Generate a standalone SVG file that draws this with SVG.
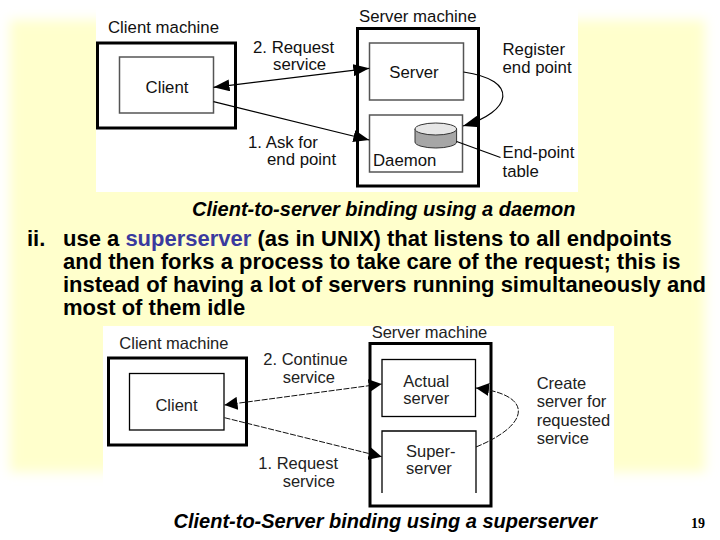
<svg xmlns="http://www.w3.org/2000/svg" width="720" height="540" viewBox="0 0 720 540">
<defs>
  <filter id="soft" x="-5%" y="-5%" width="110%" height="110%"><feGaussianBlur stdDeviation="6"/></filter>
  <marker id="ah1" markerUnits="userSpaceOnUse" viewBox="0 0 16 12" markerWidth="16" markerHeight="12" refX="16" refY="6" orient="auto-start-reverse">
    <path d="M0,0 L16,6 L0,12 z" fill="#000"/>
  </marker>
  <marker id="ah2" markerUnits="userSpaceOnUse" viewBox="0 0 13 13" markerWidth="13" markerHeight="13" refX="13" refY="6.5" orient="auto-start-reverse">
    <path d="M0,0 L13,6.5 L0,13 z" fill="#000"/>
  </marker>
  <style>
    .d1 { font-family: "Liberation Sans", Arial, sans-serif; font-size: 16.8px; fill: #111; }
    .d2 { font-family: "Liberation Sans", Arial, sans-serif; font-size: 16.5px; fill: #222; }
    .outer { fill: none; stroke: #000; stroke-width: 3; }
    .in1 { fill: none; stroke: #555; stroke-width: 1.5; }
    .in2 { fill: none; stroke: #000; stroke-width: 1.3; }
    .c1 { fill: none; stroke: #000; stroke-width: 1.2; }
    .c2 { fill: none; stroke: #111; stroke-width: 1; stroke-dasharray: 6 1.5; }
    .body { font-family: "Liberation Sans", Arial, sans-serif; font-size: 22px; font-weight: bold; fill: #000; }
    .cap { font-family: "Liberation Sans", Arial, sans-serif; font-size: 20px; font-weight: bold; font-style: italic; fill: #000; }
  </style>
</defs>

<!-- background -->
<rect width="720" height="540" fill="#fff"/>
<rect x="10" y="20" width="695" height="452" fill="#FFFFCC" filter="url(#soft)"/>
<rect x="96" y="8" width="482" height="184" fill="#fff"/>
<rect x="103" y="326" width="511" height="166" fill="#fff"/>

<!-- ===== Diagram 1 ===== -->
<g id="d1-client-machine">
  <rect class="outer" x="97.5" y="43" width="138" height="85"/>
  <text class="d1" x="108" y="33">Client machine</text>
</g>
<g id="d1-client">
  <rect class="in1" x="119.5" y="57" width="94" height="56"/>
  <text class="d1" x="167" y="93" text-anchor="middle">Client</text>
</g>
<g id="d1-server-machine">
  <rect class="outer" x="357.5" y="28.5" width="121" height="157.5"/>
  <text class="d1" x="359" y="21.5">Server machine</text>
</g>
<g id="d1-server">
  <rect class="in1" x="369.5" y="43" width="94" height="57"/>
  <text class="d1" x="414" y="78" text-anchor="middle">Server</text>
</g>
<g id="d1-daemon">
  <rect class="in1" x="369.5" y="115" width="93" height="57"/>
  <text class="d1" x="373" y="166">Daemon</text>
</g>
<g id="d1-endpoint-table">
  <path d="M415,129 V142 A20.8,6 0 0 0 456.6,142 V129" fill="#a6a6a6" stroke="#333" stroke-width="1"/>
  <ellipse cx="435.8" cy="129" rx="20.8" ry="6" fill="#e6e6e6" stroke="#333" stroke-width="1"/>
</g>

<g id="d1-connectors">
  <line class="c1" x1="213.5" y1="87.3" x2="369.3" y2="68.3" marker-start="url(#ah1)" marker-end="url(#ah1)"/>
  <line class="c1" x1="213.5" y1="101.7" x2="369.3" y2="140" marker-end="url(#ah1)"/>
  <path class="c1" d="M463.5,72 C520,80 512,112 463,126" marker-end="url(#ah1)"/>
  <line class="c1" x1="456.6" y1="141.5" x2="500.5" y2="157.5"/>
  <text class="d1" x="253" y="52.5">2. Request</text>
  <text class="d1" x="273" y="70">service</text>
  <text class="d1" x="248" y="147.5">1. Ask for</text>
  <text class="d1" x="267" y="165">end point</text>
  <text class="d1" x="502.5" y="54.5">Register</text>
  <text class="d1" x="502.5" y="73">end point</text>
  <text class="d1" x="502.5" y="158">End-point</text>
  <text class="d1" x="502.5" y="177">table</text>
</g>

<!-- captions and body text -->
<text class="cap" x="192" y="215.5">Client-to-server binding using a daemon</text>
<text class="body" x="27" y="245.5">ii.</text>
<text class="body" x="63" y="245.5">use a <tspan fill="#3A3A9E">superserver</tspan> (as in UNIX) that listens to all endpoints</text>
<text class="body" x="63" y="268.7">and then forks a process to take care of the request; this is</text>
<text class="body" x="63" y="291.9">instead of having a lot of servers running simultaneously and</text>
<text class="body" x="63" y="315">most of them idle</text>

<!-- ===== Diagram 2 ===== -->
<g id="d2-client-machine">
  <rect class="outer" x="108.5" y="358" width="138" height="87"/>
  <text class="d2" x="119.3" y="349">Client machine</text>
</g>
<g id="d2-client">
  <rect class="in2" x="129.5" y="373.5" width="94.5" height="56.5"/>
  <text class="d2" x="176.5" y="410.5" text-anchor="middle">Client</text>
</g>
<g id="d2-server-machine">
  <rect class="outer" x="370" y="343.5" width="121" height="162.5"/>
  <text class="d2" x="371.7" y="338">Server machine</text>
</g>
<g id="d2-actual-server">
  <rect class="in2" x="382" y="359.5" width="93.5" height="57"/>
  <text class="d2" x="403.3" y="386.5">Actual</text>
  <text class="d2" x="403.3" y="403.5">server</text>
</g>
<g id="d2-superserver">
  <path class="in2" d="M382,493 V431 H476 V493"/>
  <text class="d2" x="406" y="457">Super-</text>
  <text class="d2" x="406" y="474">server</text>
</g>

<g id="d2-connectors">
  <line class="c2" x1="224.5" y1="405" x2="381.7" y2="384" marker-start="url(#ah2)" marker-end="url(#ah2)"/>
  <line class="c2" x1="224.5" y1="417.7" x2="381.7" y2="456.7" marker-end="url(#ah2)"/>
  <path class="c2" d="M476,447 C530,425 535,395 476,388" marker-end="url(#ah2)"/>
  <text class="d2" x="263.3" y="365">2. Continue</text>
  <text class="d2" x="282.7" y="383">service</text>
  <text class="d2" x="258.3" y="469">1. Request</text>
  <text class="d2" x="282.7" y="486.5">service</text>
  <text class="d2" x="536.7" y="388.5">Create</text>
  <text class="d2" x="536.7" y="407">server for</text>
  <text class="d2" x="536.7" y="426">requested</text>
  <text class="d2" x="536.7" y="444">service</text>
</g>

<text class="cap" x="173.5" y="528">Client-to-Server binding using a superserver</text>
<text x="691" y="528" font-family="'Liberation Serif', 'Times New Roman', serif" font-size="14" font-weight="bold" fill="#000">19</text>
</svg>
